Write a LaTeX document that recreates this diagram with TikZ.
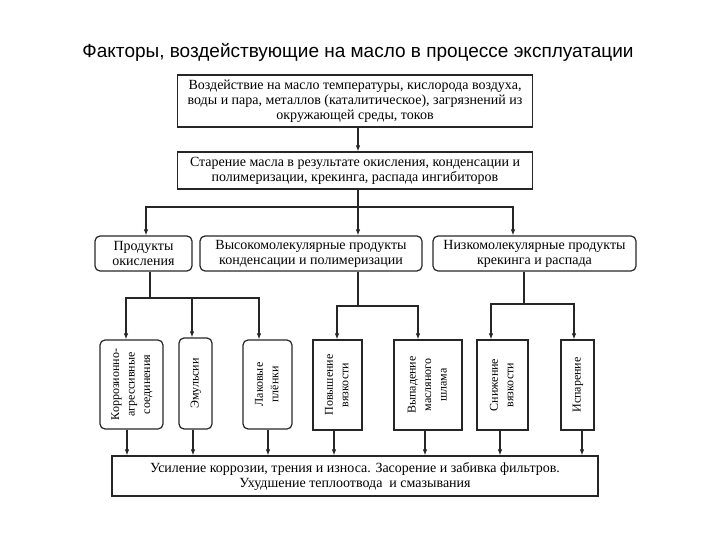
\documentclass[tikz,border=0pt]{standalone}
\usepackage{fontspec}
\setmainfont{Liberation Serif}
\newfontfamily\titlefont{Liberation Sans}
\usepackage{graphicx}
\usetikzlibrary{arrows.meta}
% vertical text in the lower boxes
\newcommand{\vlab}[1]{\rotatebox{90}{\begin{tabular}{@{}c@{}}#1\end{tabular}}}

\begin{document}
\begin{tikzpicture}[x=1pt,y=-1pt,
  box/.style={draw=black!85, line width=1.2pt, align=center, inner sep=1pt,
    font=\fontsize{14}{15}\selectfont},
  rbox/.style={box, rounded corners=5pt},
  vbox/.style={box, font=\fontsize{12}{15.5}\selectfont},
  rvbox/.style={vbox, rounded corners=5pt},
  wire/.style={draw=black!85, line width=1.1pt},
  arr/.style={wire, -{Latex[length=6pt,width=4.5pt]}}]
\useasboundingbox (0,0) rectangle (720,540);

\node[font=\titlefont\fontsize{19}{22}\selectfont] (title) at (358,52)
  {Факторы, воздействующие на масло в процессе эксплуатации};

% top chain
\node[box, minimum width=355, minimum height=52] (b1) at (355,101)
  {Воздействие на масло температуры, кислорода воздуха,\\
   воды и пара, металлов (каталитическое), загрязнений из\\
   окружающей среды, токов};
\node[box, minimum width=355, minimum height=37] (b2) at (355,170.5)
  {Старение масла в результате окисления, конденсации и\\
   полимеризации, крекинга, распада ингибиторов};

% product groups
\node[rbox, minimum width=97, minimum height=35] (pa) at (143.5,253.5)
  {Продукты\\окисления};
\node[rbox, minimum width=222, minimum height=35] (pb) at (311,253.5)
  {Высокомолекулярные продукты\\конденсации и полимеризации};
\node[rbox, minimum width=203, minimum height=35] (pc) at (534.5,253.5)
  {Низкомолекулярные продукты\\крекинга и распада};

% effects
\node[rvbox, minimum width=63, minimum height=89] (r1) at (131.5,384.5)
  {\vlab{Коррозионно-\\агрессивные\\соединения}};
\node[rvbox, minimum width=33, minimum height=91] (r2) at (195.5,383.5)
  {\vlab{Эмульсии}};
\node[rvbox, minimum width=49, minimum height=89] (r3) at (267.5,384.5)
  {\vlab{Лаковые\\плёнки}};
\node[vbox, minimum width=49, minimum height=90] (r4) at (337.5,385)
  {\vlab{Повышение\\вязкости}};
\node[vbox, minimum width=68, minimum height=90] (r5) at (428,385)
  {\vlab{Выпадение\\масляного\\шлама}};
\node[vbox, minimum width=51, minimum height=90] (r6) at (502.5,385)
  {\vlab{Снижение\\вязкости}};
\node[vbox, minimum width=33, minimum height=90] (r7) at (577.5,385)
  {\vlab{Испарение}};

\node[box, minimum width=486, minimum height=40] (out) at (355,476)
  {Усиление коррозии, трения и износа. Засорение и забивка фильтров.\\
   Ухудшение теплоотвода\ \ и смазывания};

% forks
\coordinate (f1) at (358,207);
\coordinate (f2) at (150,298);
\coordinate (f3) at (358,306);
\coordinate (f4) at (524,304);

\draw[arr] (b1.south -| f1) -- (b2.north -| f1);
\draw[wire] (b2.south -| f1) -- (f1);
\draw[arr] (f1) -| ([xshift=2.5pt]pa.north);
\draw[arr] (f1) -- (pb.north -| f1);
\draw[arr] (f1) -| ([xshift=-21.5pt]pc.north);

\draw[wire] (pa.south -| f2) -- (f2);
\draw[arr] (f2) -| ([xshift=-5.5pt]r1.north);
\draw[arr] (f2) -| ([xshift=-3.5pt]r2.north);
\draw[arr] (f2) -| ([xshift=-8.5pt]r3.north);

\draw[wire] (pb.south -| f3) -- (f3);
\draw[arr] (f3) -| ([xshift=-0.5pt]r4.north);
\draw[arr] (f3) -| ([xshift=-10pt]r5.north);

\draw[wire] (pc.south -| f4) -- (f4);
\draw[arr] (f4) -| ([xshift=-11.5pt]r6.north);
\draw[arr] (f4) -| ([xshift=-3.5pt]r7.north);

\foreach \n/\x in {r1/127, r2/193, r3/268, r4/334, r5/425, r6/500, r7/582}
  \draw[arr] (\n.south -| \x,0) -- (out.north -| \x,0);
\end{tikzpicture}
\end{document}
